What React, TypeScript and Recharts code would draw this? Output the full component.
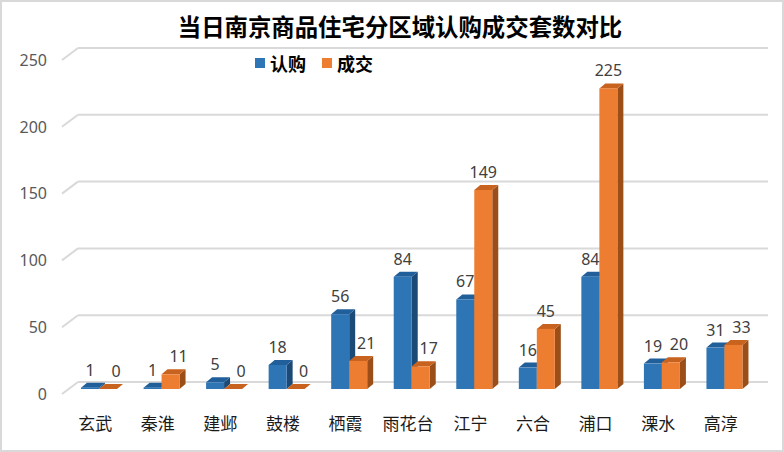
import React from "react";
import { BarChart, Bar, XAxis, YAxis, CartesianGrid, LabelList } from "recharts";

// 当日南京商品住宅分区域认购成交套数对比
const districts = ["玄武", "秦淮", "建邺", "鼓楼", "栖霞", "雨花台", "江宁", "六合", "浦口", "溧水", "高淳"];
const subscribed = [1, 1, 5, 18, 56, 84, 67, 16, 84, 19, 31]; // 认购
const closed = [0, 11, 0, 0, 21, 17, 149, 45, 225, 20, 33]; // 成交
const yTicks = [0, 50, 100, 150, 200, 250];

const BLUE = { front: "#2E75B6", top: "#215f9b", side: "#1b4a77" };
const ORANGE = { front: "#ED7D31", top: "#c8621f", side: "#9c4e19" };

const DEPTH_X = 6;
const DEPTH_Y = -5;

const data = districts.map((name, i) => ({ name, 认购: subscribed[i], 成交: closed[i] }));

function make3DBar(colors: { front: string; top: string; side: string }) {
  return (props: any) => {
    const { x, y, width, height } = props;
    if (x == null || y == null) return null;
    const w = width;
    const h = Math.max(height, 0);
    const side = `${x + w},${y} ${x + w + DEPTH_X},${y + DEPTH_Y} ${x + w + DEPTH_X},${y + h + DEPTH_Y} ${x + w},${y + h}`;
    const top = `${x},${y} ${x + DEPTH_X},${y + DEPTH_Y} ${x + w + DEPTH_X},${y + DEPTH_Y} ${x + w},${y}`;
    return (
      <g>
        <polygon points={side} fill={colors.side} />
        <polygon points={top} fill={colors.top} />
        {h > 0 && <rect x={x} y={y} width={w} height={h} fill={colors.front} />}
      </g>
    );
  };
}

// back-wall gridline with the diagonal floor/side edge on the left
const gridLine = (p: any) => {
  const { x1, x2, y1 } = p;
  const back = y1 - 7;
  return (
    <g key={p.key}>
      <line x1={x1 - 6} y1={y1 + 5} x2={x1 + 10} y2={back} stroke="#d9d9d9" strokeWidth={2} />
      <line x1={x1 + 10} y1={back} x2={x2 + 12} y2={back} stroke="#d9d9d9" strokeWidth={2} />
    </g>
  );
};

const YTick = (p: any) => (
  <text x={p.x} y={p.y + 5} dy="0.36em" textAnchor="end" fontSize={16} fill="#595959" fontFamily="'Noto Sans', sans-serif">
    {p.payload.value}
  </text>
);

const XTick = (p: any) => (
  <text x={p.x - 4} y={p.y + 35} textAnchor="middle" fontSize={17} fill="#1a1a1a" fontFamily="'Noto Sans CJK SC', sans-serif">
    {p.payload.value}
  </text>
);

const labelFont = { fontSize: 16, fill: "#404040", fontFamily: "'Noto Sans', sans-serif" };

// labels of the orange series sit a little to the right unless the bar clearly towers over the blue one
const makeLabel = (shiftOrange: boolean) => (p: any) => {
  const { x, y, width, value, index } = p;
  let dx = 0;
  if (shiftOrange) {
    const tall = closed[index] - subscribed[index] > 20;
    dx = tall ? 0 : 8;
  }
  return (
    <text x={x + width / 2 + dx} y={y - 12} textAnchor="middle" {...labelFont}>
      {value}
    </text>
  );
};

export default function App() {
  return (
    <div
      style={{
        position: "relative",
        width: 784,
        height: 452,
        background: "#fff",
        boxShadow: "inset 0 0 0 2px #d9d9d9",
        fontFamily: "'Noto Sans CJK SC', sans-serif",
      }}
    >
      <style>{`body{margin:0}`}</style>
      <div
        style={{
          position: "absolute",
          top: 10,
          left: 8,
          width: 784,
          textAlign: "center",
          fontSize: 23.4,
          fontWeight: 700,
          color: "#000",
          lineHeight: "32px",
        }}
      >
        当日南京商品住宅分区域认购成交套数对比
      </div>
      <div
        style={{
          position: "absolute",
          top: 50,
          left: 255,
          display: "flex",
          alignItems: "center",
          fontSize: 18,
          fontWeight: 700,
          color: "#000",
          lineHeight: "26px",
          zIndex: 2,
        }}
      >
        <span style={{ width: 10, height: 10, background: BLUE.front, marginRight: 5 }} />
        <span style={{ marginRight: 16 }}>认购</span>
        <span style={{ width: 10, height: 10, background: ORANGE.front, marginRight: 5 }} />
        <span>成交</span>
      </div>
      <BarChart
        width={784}
        height={452}
        data={data}
        margin={{ top: 55, right: 28, bottom: 0, left: 0 }}
        barGap={0}
        barSize={18}
      >
        <CartesianGrid vertical={false} horizontal={gridLine} />
        <XAxis dataKey="name" height={63} axisLine={false} tickLine={false} tickMargin={0} tick={<XTick />} interval={0} />
        <YAxis
          domain={[0, 250]}
          ticks={yTicks}
          width={68}
          axisLine={false}
          tickLine={false}
          tickMargin={15}
          tick={<YTick />}
        />
        <Bar dataKey="认购" isAnimationActive={false} shape={make3DBar(BLUE)}>
          <LabelList dataKey="认购" content={makeLabel(false)} />
        </Bar>
        <Bar dataKey="成交" isAnimationActive={false} shape={make3DBar(ORANGE)}>
          <LabelList dataKey="成交" content={makeLabel(true)} />
        </Bar>
      </BarChart>
    </div>
  );
}
